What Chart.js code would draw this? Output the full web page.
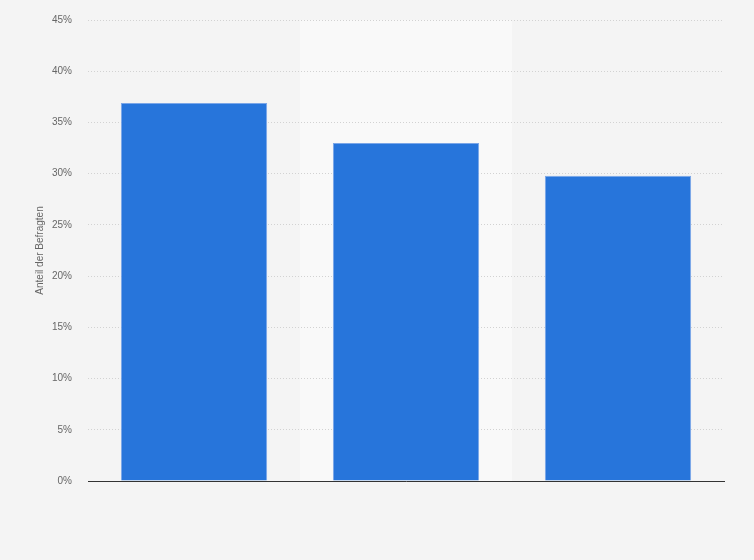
<!DOCTYPE html>
<html lang="de">
<head>
    <meta charset="UTF-8">
    <title>Anteil der Befragten</title>
    <script src="https://cdn.jsdelivr.net/npm/chart.js"></script>
    <style>
        html, body { margin: 0; padding: 0; background: #f4f4f4; }
        #wrap { width: 754px; height: 560px; }
    </style>
</head>
<body>
    <div id="wrap"><canvas id="barChart" width="754" height="560"></canvas></div>

    <script>
        // Data
        const categories = ['1', '2', '3'];
        const shares = [36.9, 33.0, 29.8];
        const yTicks = [0, 5, 10, 15, 20, 25, 30, 35, 40, 45];

        // page background plus the lighter band behind every second category
        const bandPlugin = {
            id: 'bands',
            beforeDraw(chart) {
                const { ctx, chartArea, scales } = chart;
                ctx.save();
                ctx.fillStyle = '#f4f4f4';
                ctx.fillRect(0, 0, chart.width, chart.height);
                const step = chartArea.width / categories.length;
                ctx.fillStyle = '#f9f9f9';
                categories.forEach((c, i) => {
                    if (i % 2 === 1) {
                        const cx = scales.x.getPixelForValue(i);
                        ctx.fillRect(cx - step / 2, chartArea.top, step, chartArea.bottom - chartArea.top);
                    }
                });
                ctx.restore();
            }
        };

        const ctx = document.getElementById('barChart').getContext('2d');
        new Chart(ctx, {
            type: 'bar',
            data: {
                labels: categories,
                datasets: [{
                    data: shares,
                    backgroundColor: '#2775db',
                    borderColor: '#7aa6e8',
                    borderWidth: 1,
                    categoryPercentage: 1,
                    barPercentage: 0.69
                }]
            },
            options: {
                responsive: false,
                animation: false,
                layout: { padding: { left: 34, right: 30, top: 20, bottom: 79 } },
                plugins: {
                    legend: { display: false },
                    tooltip: { enabled: false }
                },
                scales: {
                    x: {
                        ticks: { display: false },
                        grid: { display: false },
                        border: { color: '#333333', width: 1 },
                        afterFit(axis) { axis.height = 0; }
                    },
                    y: {
                        min: 0,
                        max: yTicks[yTicks.length - 1],
                        afterBuildTicks(axis) {
                            axis.ticks = yTicks.map(v => ({ value: v }));
                        },
                        afterFit(axis) {
                            axis.width = 54;
                            axis.paddingTop = 0;
                            axis.paddingBottom = 0;
                        },
                        ticks: {
                            callback: v => v + '%',
                            color: '#666666',
                            font: { family: 'Arial, "Liberation Sans", sans-serif', size: 10 },
                            padding: 16
                        },
                        grid: {
                            color: '#d2d2d2',
                            drawTicks: false
                        },
                        border: { display: false, dash: [1, 2] },
                        title: {
                            display: true,
                            text: 'Anteil der Befragten',
                            color: '#666666',
                            font: { family: 'Arial, "Liberation Sans", sans-serif', size: 10 },
                            padding: 0
                        }
                    }
                }
            },
            plugins: [bandPlugin]
        });
    </script>
</body>
</html>
